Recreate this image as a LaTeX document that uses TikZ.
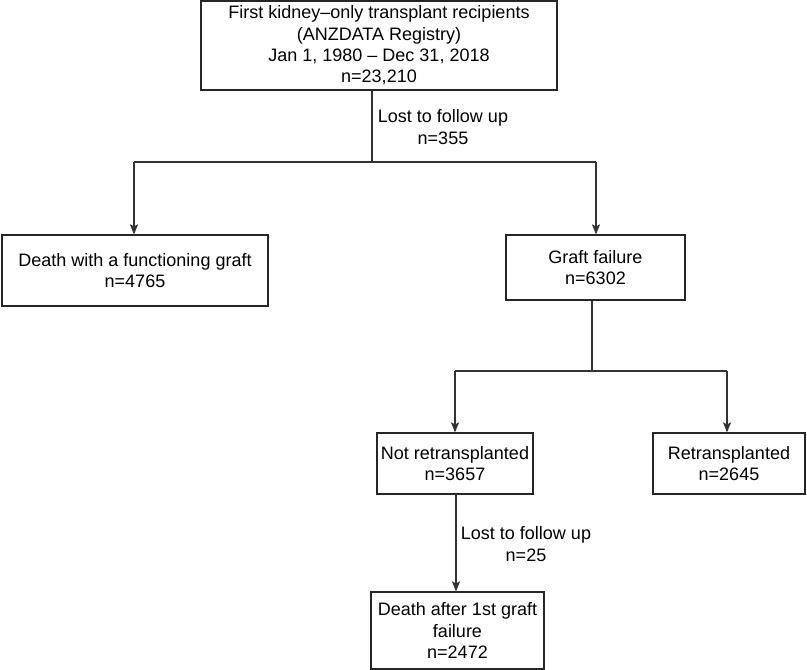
\documentclass[tikz,border=0pt]{standalone}
\usepackage{fontspec}
\setmainfont{Liberation Sans}
\usetikzlibrary{arrows.meta}
\begin{document}
\begin{tikzpicture}[x=1pt,y=-1pt,
  every node/.style={font=\fontsize{18}{21.3}\selectfont},
  box/.style={draw=black!85,line width=1.2pt,align=center,inner sep=0pt},
  conn/.style={draw=black!80,line width=1.2pt},
  arr/.style={conn,-{Stealth[length=10pt,width=8pt,inset=2pt]}},
  lbl/.style={align=center,inner sep=0pt}]
\useasboundingbox (0,0) rectangle (807,670);
\node[box,minimum width=356pt,minimum height=89pt] (top) at (379,45.5)
  {First kidney–only transplant recipients\\(ANZDATA Registry)\\Jan 1, 1980 – Dec 31, 2018\\n=23,210};
\node[box,minimum width=266pt,minimum height=71pt] (death) at (135,270.5)
  {Death with a functioning graft\\n=4765};
\node[box,minimum width=179pt,minimum height=65pt] (gf) at (595.5,267.5)
  {Graft failure\\n=6302};
\node[box,minimum width=156pt,minimum height=61pt] (nr) at (455,463.5)
  {Not retransplanted\\n=3657};
\node[box,minimum width=152pt,minimum height=61pt] (rt) at (729,463.5)
  {Retransplanted\\n=2645};
\node[box,minimum width=173pt,minimum height=77pt] (da) at (457.5,630.5)
  {Death after 1st graft\\failure\\n=2472};
\node[lbl] (l1) at (443,127) {Lost to follow up\\n=355};
\node[lbl] (l2) at (526,544) {Lost to follow up\\n=25};
\coordinate (j1) at (372,162);
\coordinate (j1l) at (134,162);
\coordinate (j1r) at (596,162);
\coordinate (j2) at (592,371);
\coordinate (j2l) at (455,371);
\coordinate (j2r) at (727,371);
\draw[conn] (372,0|-top.south) -- (j1);
\draw[conn] (j1l) -- (j1r);
\draw[arr] (j1l) -- (j1l|-death.north);
\draw[arr] (j1r) -- (j1r|-gf.north);
\draw[conn] (j2|-gf.south) -- (j2);
\draw[conn] (j2l) -- (j2r);
\draw[arr] (j2l) -- (j2l|-nr.north);
\draw[arr] (j2r) -- (j2r|-rt.north);
\draw[arr] (456,0|-nr.south) -- (456,0|-da.north);
\end{tikzpicture}
\end{document}
